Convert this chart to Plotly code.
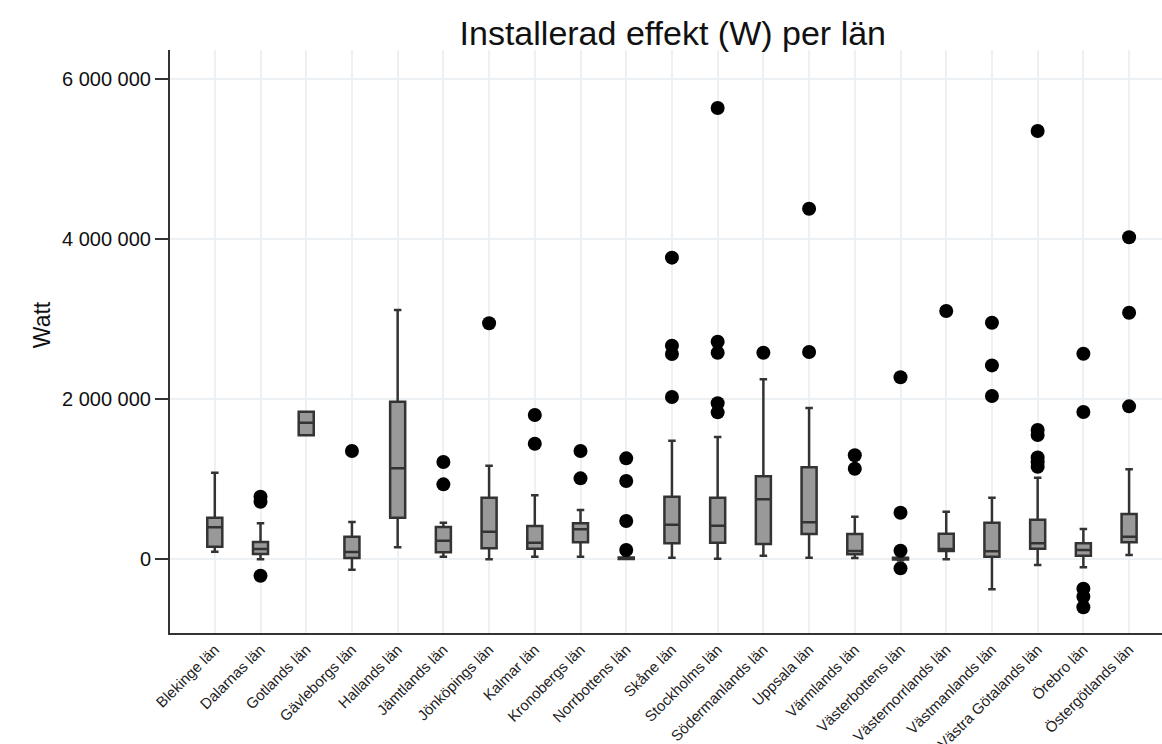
import plotly.graph_objects as go

# Län (county) names along the x axis
lan = [
    "Blekinge län", "Dalarnas län", "Gotlands län", "Gävleborgs län", "Hallands län",
    "Jämtlands län", "Jönköpings län", "Kalmar län", "Kronobergs län", "Norrbottens län",
    "Skåne län", "Stockholms län", "Södermanlands län", "Uppsala län", "Värmlands län",
    "Västerbottens län", "Västernorrlands län", "Västmanlands län", "Västra Götalands län",
    "Örebro län", "Östergötlands län",
]

# Box statistics per län (W)
lower_fence = [91000, -4000, 1546000, -134000, 146000, 29000, -4000, 29000, 29000, 0,
               16000, 4000, 42000, 16000, 12000, -15000, -4000, -379000, -75000, -104000, 50000]
q1 = [154000, 62000, 1546000, 12000, 516000, 83000, 133000, 129000, 208000, 0,
      196000, 204000, 187000, 312000, 58000, -5000, 100000, 29000, 129000, 42000, 208000]
median = [396000, 125000, 1704000, 87000, 1133000, 229000, 341000, 204000, 371000, 5000,
          429000, 416000, 746000, 458000, 100000, 5000, 125000, 96000, 196000, 112000, 279000]
q3 = [516000, 212000, 1841000, 279000, 1966000, 400000, 766000, 412000, 446000, 20000,
      779000, 766000, 1033000, 1146000, 312000, 15000, 316000, 454000, 491000, 196000, 562000]
upper_fence = [1079000, 446000, 1841000, 462000, 3112000, 454000, 1166000, 796000, 612000, 40000,
               1479000, 1525000, 2246000, 1887000, 529000, 30000, 591000, 766000, 1016000, 375000, 1121000]

# Outliers: (län, value in W)
outlier_lan = (
    ["Dalarnas län"] * 3
    + ["Gävleborgs län"]
    + ["Jämtlands län"] * 2
    + ["Jönköpings län"]
    + ["Kalmar län"] * 2
    + ["Kronobergs län"] * 2
    + ["Norrbottens län"] * 4
    + ["Skåne län"] * 4
    + ["Stockholms län"] * 5
    + ["Södermanlands län"]
    + ["Uppsala län"] * 2
    + ["Värmlands län"] * 2
    + ["Västerbottens län"] * 4
    + ["Västernorrlands län"]
    + ["Västmanlands län"] * 3
    + ["Västra Götalands län"] * 6
    + ["Örebro län"] * 5
    + ["Östergötlands län"] * 3
)
outlier_w = (
    [779000, 716000, -209000]
    + [1350000]
    + [1212000, 933000]
    + [2946000]
    + [1800000, 1441000]
    + [1350000, 1008000]
    + [1258000, 975000, 475000, 112000]
    + [3767000, 2666000, 2562000, 2025000]
    + [5637000, 2716000, 2579000, 1946000, 1833000]
    + [2579000]
    + [4379000, 2587000]
    + [1296000, 1129000]
    + [2271000, 579000, 104000, -117000]
    + [3100000]
    + [2954000, 2420000, 2037000]
    + [5350000, 1612000, 1550000, 1270000, 1210000, 1154000]
    + [2566000, 1837000, -371000, -471000, -604000]
    + [4021000, 3079000, 1908000]
)

y_ticks = [0, 2000000, 4000000, 6000000]
y_tick_text = ["0", "2 000 000", "4 000 000", "6 000 000"]

fig = go.Figure()

fig.add_trace(go.Box(
    x=lan,
    q1=q1,
    median=median,
    q3=q3,
    lowerfence=lower_fence,
    upperfence=upper_fence,
    fillcolor="#999999",
    line=dict(color="#333333", width=2.5),
    whiskerwidth=0.5,
    boxpoints=False,
    showlegend=False,
    hoverinfo="skip",
))

fig.add_trace(go.Scatter(
    x=outlier_lan,
    y=outlier_w,
    mode="markers",
    marker=dict(color="black", size=14, line=dict(width=0)),
    showlegend=False,
    hoverinfo="skip",
))

fig.update_layout(
    width=1162,
    height=744,
    margin=dict(l=170, r=0, t=50, b=111),
    paper_bgcolor="white",
    plot_bgcolor="white",
    boxgap=0.53,
    font=dict(family="Liberation Sans, Arial, sans-serif", color="#111111"),
    title=dict(
        text="Installerad effekt (W) per län",
        x=0.579, xanchor="center",
        y=0.955, yanchor="middle",
        font=dict(size=34, color="#111111"),
    ),
    annotations=[dict(
        text="Watt",
        xref="paper", yref="paper",
        x=-0.129, y=0.528,
        xanchor="center", yanchor="middle",
        textangle=-90,
        showarrow=False,
        font=dict(size=23, color="#111111"),
    )],
)

fig.update_xaxes(
    type="category",
    categoryorder="array",
    categoryarray=lan,
    range=[-0.98, 20.72],
    automargin=False,
    showgrid=True,
    gridcolor="#eef1f4",
    gridwidth=2,
    showline=True,
    linecolor="#333333",
    linewidth=2,
    ticks="",
    tickangle=-45,
    tickfont=dict(size=15, color="#222222"),
    zeroline=False,
)

fig.update_yaxes(
    range=[-925000, 6362500],
    tickvals=y_ticks,
    ticktext=y_tick_text,
    automargin=False,
    showgrid=True,
    gridcolor="#eef1f4",
    gridwidth=2,
    showline=True,
    linecolor="#333333",
    linewidth=2,
    ticks="outside",
    ticklen=13,
    tickwidth=2,
    tickcolor="#333333",
    tickfont=dict(size=20, color="#111111"),
    zeroline=False,
)

fig.write_html("out.html")
